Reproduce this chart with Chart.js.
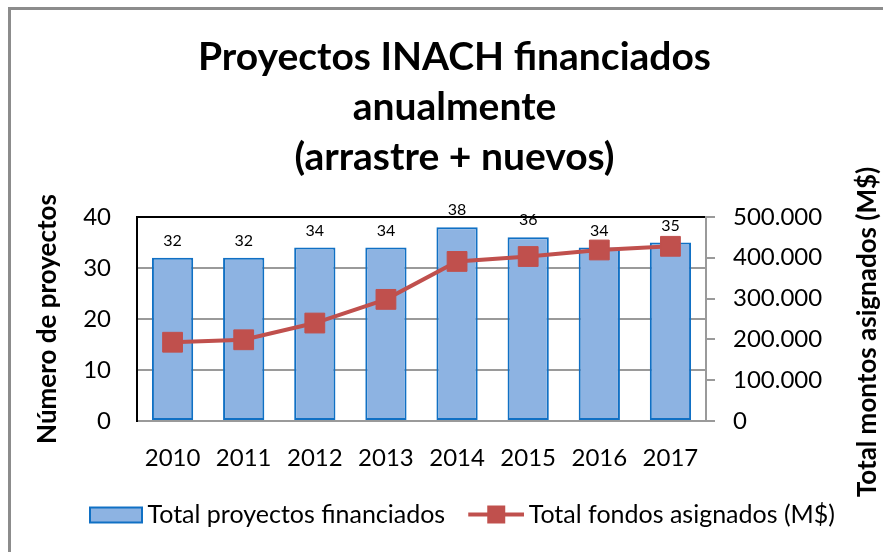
<!DOCTYPE html>
<html>
<head>
<meta charset="utf-8">
<script src="https://cdn.jsdelivr.net/npm/chart.js@4.4.1/dist/chart.umd.min.js"></script>
<style>
  html, body { margin: 0; padding: 0; background: #fff; overflow: hidden; }
  #wrap { position: relative; width: 883px; height: 552px; overflow: hidden; }
  #frame { position: absolute; left: 8px; top: 7px; width: 1000px; height: 1000px; border: 3px solid #8c8c8c; }
  #graph { position: absolute; left: 0; top: 0; }
</style>
</head>
<body>
<div id="wrap">
  <div id="frame"></div>
  <canvas id="graph" width="883" height="552"></canvas>
</div>
<script>
"use strict";
const years = ["2010", "2011", "2012", "2013", "2014", "2015", "2016", "2017"];
const proyectos = [32, 32, 34, 34, 38, 36, 34, 35];
const fondos = [193000, 199000, 240000, 298000, 391000, 403000, 419000, 428000];
const proyectosTicks = ["0", "10", "20", "30", "40"];
const fondosTicks = ["0", "100.000", "200.000", "300.000", "400.000", "500.000"];
const titleLines = ["Proyectos INACH financiados", "anualmente", "(arrastre + nuevos)"];
const barName = "Total proyectos financiados";
const lineName = "Total fondos asignados (M$)";
const leftTitle = "Número de proyectos";
const rightTitle = "Total montos asignados (M$)";

const barFill = "#8db3e2";
const barBorder = "#1070c4";
const lineColor = "#c0504d";
const gridGray = "#9a9a9a";

Chart.defaults.font.family = "Lato";
Chart.defaults.color = "#000";

function legendIcon(kind) {
  const c = document.createElement("canvas");
  c.width = 77;
  c.height = 20;
  const g = c.getContext("2d");
  if (kind === "bar") {
    g.fillStyle = barFill;
    g.fillRect(24, 3, 52, 15);
    g.strokeStyle = barBorder;
    g.lineWidth = 2;
    g.strokeRect(24, 3, 52, 15);
  } else {
    g.strokeStyle = lineColor;
    g.lineWidth = 4;
    g.beginPath();
    g.moveTo(21, 10);
    g.lineTo(77, 10);
    g.stroke();
    g.fillStyle = lineColor;
    g.fillRect(40, 1, 18, 18);
  }
  return c;
}

// numbers above the bars
const barLabels = {
  id: "barLabels",
  afterDatasetsDraw(chart) {
    const ctx = chart.ctx;
    const meta = chart.getDatasetMeta(0);
    ctx.save();
    ctx.font = "16px Lato";
    ctx.fillStyle = "#000";
    ctx.textAlign = "center";
    ctx.textBaseline = "middle";
    meta.data.forEach((bar, i) => {
      ctx.fillText(String(proyectos[i]), bar.x, bar.y - 17);
    });
    ctx.restore();
  },
};

// right axis title reads bottom to top, like the left one
const rightAxisTitle = {
  id: "rightAxisTitle",
  afterDraw(chart) {
    const s = chart.scales.y1;
    const ctx = chart.ctx;
    ctx.save();
    ctx.translate(s.right - 11, (s.top + s.bottom) / 2 + 13);
    ctx.rotate(-Math.PI / 2);
    ctx.font = "bold 26px Lato";
    ctx.fillStyle = "#000";
    ctx.textAlign = "center";
    ctx.textBaseline = "middle";
    ctx.fillText(rightTitle, 0, 0);
    ctx.restore();
  },
};

const ctx = document.getElementById("graph").getContext("2d");
new Chart(ctx, {
  type: "bar",
  data: {
    labels: years,
    datasets: [
      {
        type: "bar",
        label: barName,
        data: proyectos,
        yAxisID: "y",
        backgroundColor: barFill,
        borderColor: barBorder,
        borderWidth: 2,
        borderSkipped: false,
        barPercentage: 0.58,
        categoryPercentage: 1,
        order: 2,
      },
      {
        type: "line",
        label: lineName,
        data: fondos,
        yAxisID: "y1",
        borderColor: lineColor,
        backgroundColor: lineColor,
        borderWidth: 4,
        pointStyle: "rect",
        pointRadius: 14,
        pointBorderWidth: 1,
        tension: 0,
        order: 1,
      },
    ],
  },
  plugins: [barLabels, rightAxisTitle],
  options: {
    responsive: false,
    animation: false,
    layout: { padding: { left: 30, right: 4, top: 0, bottom: 15 } },
    plugins: {
      tooltip: { enabled: false },
      title: {
        display: true,
        text: titleLines,
        color: "#000",
        font: { size: 39, weight: "bold", lineHeight: 1.29 },
        padding: { top: 32, bottom: 34 },
      },
      legend: {
        position: "bottom",
        labels: {
          usePointStyle: true,
          pointStyleWidth: 61,
          boxHeight: 20,
          padding: 10,
          font: { size: 25 },
          color: "#000",
          generateLabels: () => [
            { text: barName, pointStyle: legendIcon("bar"), fillStyle: "transparent", strokeStyle: "transparent", lineWidth: 0, datasetIndex: 0, hidden: false },
            { text: lineName, pointStyle: legendIcon("line"), fillStyle: "transparent", strokeStyle: "transparent", lineWidth: 0, datasetIndex: 1, hidden: false },
          ],
        },
      },
    },
    scales: {
      x: {
        grid: { display: false, drawTicks: false },
        border: { display: true, color: gridGray, width: 2 },
        ticks: { padding: 23, font: { size: 24 }, color: "#000" },
        afterFit: (s) => { s.height = 71; },
      },
      y: {
        position: "left",
        min: 0,
        max: 40,
        ticks: {
          stepSize: 10,
          padding: 26,
          font: { size: 24 },
          color: "#000",
          callback: (v, i) => proyectosTicks[i],
        },
        grid: {
          drawTicks: false,
          lineWidth: 2,
          color: (c) => (c.tick && c.tick.value === 40 ? "#000" : gridGray),
        },
        border: { color: "#000", width: 2 },
        title: {
          display: true,
          text: leftTitle,
          font: { size: 26, weight: "bold" },
          color: "#000",
          padding: { top: 2, bottom: 0 },
        },
        afterFit: (s) => { s.width = 107; },
      },
      y1: {
        position: "right",
        min: 0,
        max: 500000,
        ticks: {
          stepSize: 100000,
          padding: 18,
          font: { size: 24 },
          color: "#000",
          callback: (v, i) => fondosTicks[i],
        },
        grid: { drawOnChartArea: false, drawTicks: true, tickLength: 9, lineWidth: 2, color: gridGray },
        border: { color: gridGray, width: 2 },
        afterFit: (s) => { s.width = 173; },
      },
    },
  },
});
</script>
</body>
</html>
